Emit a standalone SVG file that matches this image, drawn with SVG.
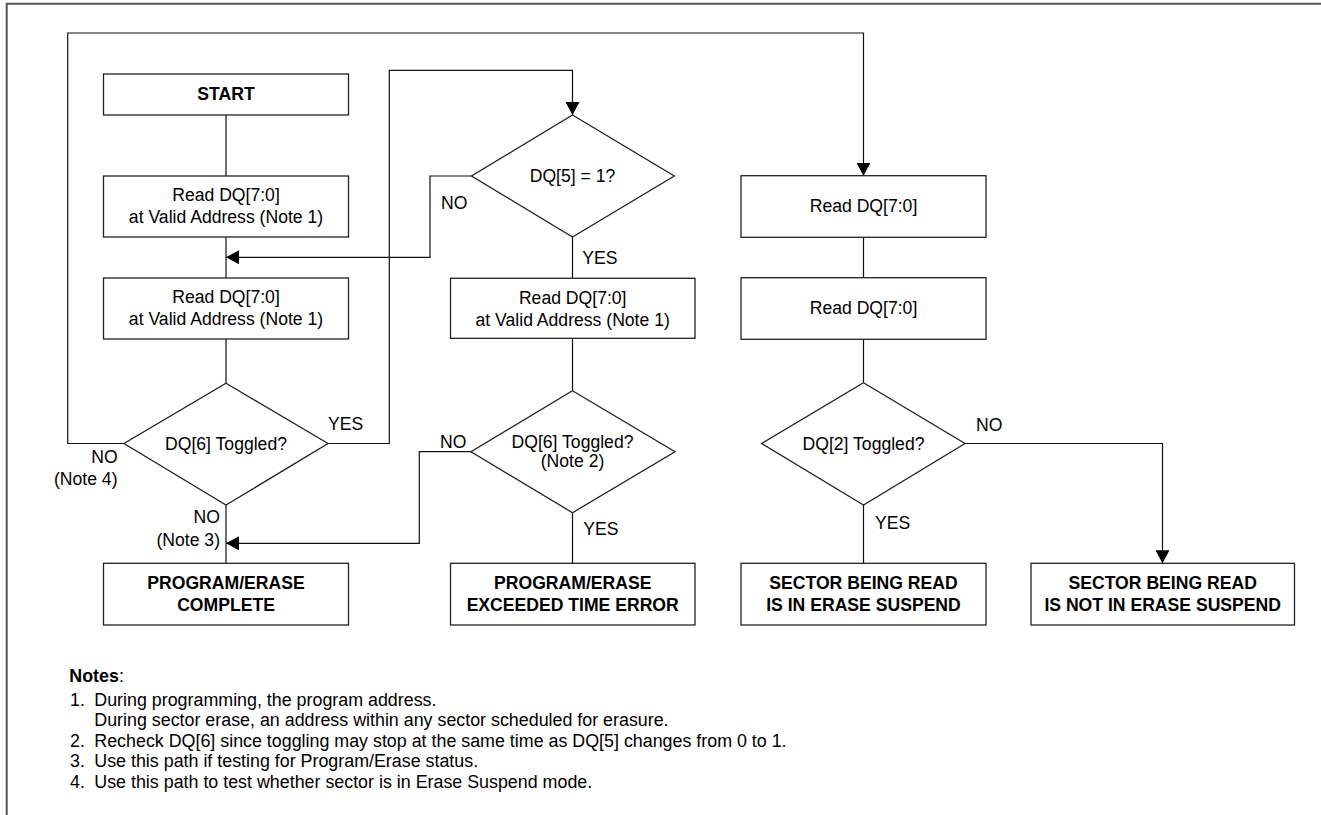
<svg xmlns="http://www.w3.org/2000/svg" width="1321" height="815" viewBox="0 0 1321 815">
<defs>
<marker id="arr" viewBox="0 0 13 14" refX="13" refY="7" markerWidth="13" markerHeight="14" markerUnits="userSpaceOnUse" orient="auto">
<path d="M0,0 L13,7 L0,14 Z" fill="#000"/>
</marker>
<style>
.box{fill:#fff;stroke:#222;stroke-width:1.3}
.t{font-family:"Liberation Sans",Arial,sans-serif;font-size:17.6px;fill:#000;text-anchor:middle}
.b{font-weight:bold}
.l{font-family:"Liberation Sans",Arial,sans-serif;font-size:17.6px;fill:#000}
.r{text-anchor:end}
.c{fill:none;stroke:#111;stroke-width:1.2}
.n{font-family:"Liberation Sans",Arial,sans-serif;font-size:17.85px;fill:#000}
</style>
</defs>
<rect width="1321" height="815" fill="#fff"/>
<path d="M6.7,815 V3.7 H1321" fill="none" stroke="#555" stroke-width="2"/>

<g id="connectors">
<path class="c" d="M226,115 V176"/>
<path class="c" d="M226,237 V278"/>
<path class="c" d="M226,339 V383.3"/>
<path class="c" d="M226,505 V563.3"/>
<path class="c" d="M328,443.5 H389.3 V70.3 H572.5 V115" marker-end="url(#arr)"/>
<path class="c" d="M124,443.5 H67.7 V33 H863.5 V175.7" marker-end="url(#arr)"/>
<path class="c" d="M471.5,176 H430 V257.3 H226" marker-end="url(#arr)"/>
<path class="c" d="M572.5,237 V278.3"/>
<path class="c" d="M572.5,338.3 V390.7"/>
<path class="c" d="M471,451.7 H419.3 V543.3 H226" marker-end="url(#arr)"/>
<path class="c" d="M572.5,512.7 V563.3"/>
<path class="c" d="M863.5,237.3 V277.7"/>
<path class="c" d="M863.5,339.3 V382.7"/>
<path class="c" d="M965,443.5 H1162.5 V563.3" marker-end="url(#arr)"/>
<path class="c" d="M863.5,505 V563.3"/>
<text class="l" x="441" y="208.5">NO</text>
<text class="l" x="582.3" y="263.5">YES</text>
<text class="l" x="328" y="430.3">YES</text>
<text class="l r" x="117.7" y="463">NO</text>
<text class="l r" x="117.5" y="484.5">(Note 4)</text>
<text class="l r" x="220" y="523">NO</text>
<text class="l r" x="220" y="545.5">(Note 3)</text>
<text class="l" x="440" y="448">NO</text>
<text class="l" x="583.3" y="534.6">YES</text>
<text class="l" x="976" y="431.3">NO</text>
<text class="l" x="875" y="529">YES</text>
</g>

<g id="start">
<rect class="box" x="103.5" y="74" width="245" height="41"/>
<text class="t b" x="226" y="99.6">START</text>
</g>
<g id="read1">
<rect class="box" x="103.5" y="176" width="245" height="61"/>
<text class="t" x="226" y="201.3">Read DQ[7:0]</text>
<text class="t" x="226" y="223">at Valid Address (Note 1)</text>
</g>
<g id="read2">
<rect class="box" x="103.5" y="278" width="245" height="61"/>
<text class="t" x="226" y="303.3">Read DQ[7:0]</text>
<text class="t" x="226" y="325">at Valid Address (Note 1)</text>
</g>
<g id="dq6a">
<polygon class="box" points="226,383.3 328,443.5 226,505 124,443.5"/>
<text class="t" x="226" y="449.6">DQ[6] Toggled?</text>
</g>
<g id="complete">
<rect class="box" x="103.5" y="563.3" width="245" height="61.7"/>
<text class="t b" x="226" y="589">PROGRAM/ERASE</text>
<text class="t b" x="226" y="611">COMPLETE</text>
</g>
<g id="dq5">
<polygon class="box" points="572.5,115 674.3,176 572.5,237 471.5,176"/>
<text class="t" x="572.5" y="182.3">DQ[5] = 1?</text>
</g>
<g id="read3">
<rect class="box" x="450.5" y="278.3" width="244.5" height="60"/>
<text class="t" x="572.7" y="303.6">Read DQ[7:0]</text>
<text class="t" x="572.7" y="325.6">at Valid Address (Note 1)</text>
</g>
<g id="dq6b">
<polygon class="box" points="572.5,390.7 675,451.7 572.5,512.7 471,451.7"/>
<text class="t" x="572.5" y="448">DQ[6] Toggled?</text>
<text class="t" x="572.5" y="466.5">(Note 2)</text>
</g>
<g id="error">
<rect class="box" x="450.5" y="563.3" width="244.5" height="61.7"/>
<text class="t b" x="572.7" y="589">PROGRAM/ERASE</text>
<text class="t b" x="572.7" y="611">EXCEEDED TIME ERROR</text>
</g>
<g id="read4">
<rect class="box" x="741" y="175.7" width="245" height="61.6"/>
<text class="t" x="863.5" y="212">Read DQ[7:0]</text>
</g>
<g id="read5">
<rect class="box" x="741" y="277.7" width="245" height="61.6"/>
<text class="t" x="863.5" y="314">Read DQ[7:0]</text>
</g>
<g id="dq2">
<polygon class="box" points="863.5,382.7 965,443.5 863.5,505 761.7,443.5"/>
<text class="t" x="863.5" y="449.6">DQ[2] Toggled?</text>
</g>
<g id="suspend">
<rect class="box" x="741" y="563.3" width="245" height="61.7"/>
<text class="t b" x="863.5" y="589">SECTOR BEING READ</text>
<text class="t b" x="863.5" y="611">IS IN ERASE SUSPEND</text>
</g>
<g id="notsuspend">
<rect class="box" x="1031" y="563.3" width="263.5" height="61.7"/>
<text class="t b" x="1162.7" y="589">SECTOR BEING READ</text>
<text class="t b" x="1162.7" y="611">IS NOT IN ERASE SUSPEND</text>
</g>

<g id="notes">
<text class="n" x="69.3" y="681.7"><tspan font-weight="bold">Notes</tspan>:</text>
<text class="n" x="70" y="705.7">1.</text>
<text class="n" x="94.3" y="705.7">During programming, the program address.</text>
<text class="n" x="94.3" y="726.2">During sector erase, an address within any sector scheduled for erasure.</text>
<text class="n" x="70" y="746.7">2.</text>
<text class="n" x="94.3" y="746.7">Recheck DQ[6] since toggling may stop at the same time as DQ[5] changes from 0 to 1.</text>
<text class="n" x="70" y="767.2">3.</text>
<text class="n" x="94.3" y="767.2">Use this path if testing for Program/Erase status.</text>
<text class="n" x="70" y="788">4.</text>
<text class="n" x="94.3" y="788">Use this path to test whether sector is in Erase Suspend mode.</text>
</g>
</svg>
